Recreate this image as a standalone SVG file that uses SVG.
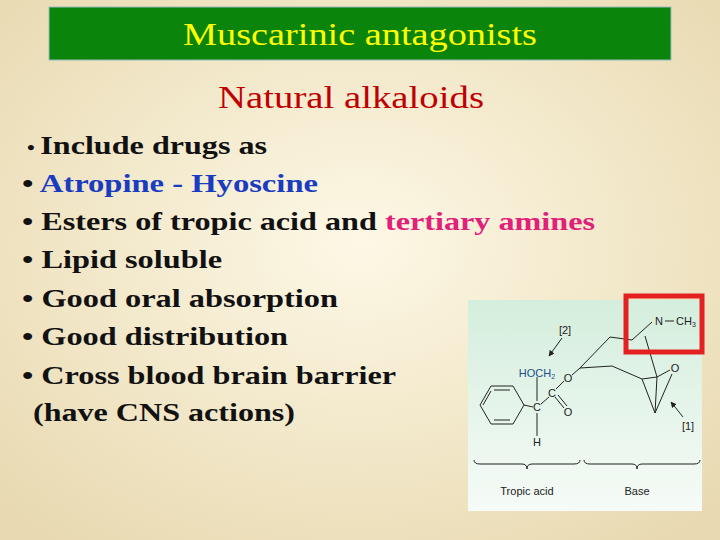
<svg xmlns="http://www.w3.org/2000/svg" width="720" height="540" viewBox="0 0 720 540">
<defs>
<radialGradient id="bg" cx="50%" cy="45%" r="70%"><stop offset="0" stop-color="#fdf8e6"/><stop offset="1" stop-color="#e8d9b0"/></radialGradient>
<linearGradient id="pg" x1="0" y1="0" x2="0" y2="1"><stop offset="0" stop-color="#d4eedd"/><stop offset="1" stop-color="#f6fbf7"/></linearGradient>
<marker id="ah" viewBox="0 0 10 10" refX="9" refY="5" markerWidth="6" markerHeight="6" orient="auto"><path d="M0,0L10,5L0,10z" fill="#222"/></marker>
</defs>
<style>
.b{font-family:"Liberation Serif",serif;font-weight:bold;font-size:26px;fill:#111}
.c{font-family:"Liberation Sans",sans-serif;font-size:11px;fill:#222}
.l{stroke:#222;stroke-width:1;fill:none}
</style>
<rect width="720" height="540" fill="url(#bg)"/>
<g id="title"><rect x="49" y="7" width="622" height="53" fill="#0a840a" stroke="#9bb" stroke-width="1"/>
<text x="183" y="45" textLength="354" lengthAdjust="spacingAndGlyphs" font-family="Liberation Serif,serif" font-size="31" fill="#ffff00">Muscarinic antagonists</text></g>
<text x="218" y="108" textLength="266" lengthAdjust="spacingAndGlyphs" font-family="Liberation Serif,serif" font-size="31" fill="#c00000">Natural alkaloids</text>
<g id="bullets">
<text x="27" y="154" class="b" textLength="240" lengthAdjust="spacingAndGlyphs"><tspan font-size="18">• </tspan>Include drugs as</text>
<text x="22" y="192" class="b" textLength="296" lengthAdjust="spacingAndGlyphs">• <tspan fill="#1a3cc0">Atropine - Hyoscine</tspan></text>
<text x="22" y="230" class="b" textLength="573" lengthAdjust="spacingAndGlyphs">• Esters of tropic acid and <tspan fill="#e0207a">tertiary amines</tspan></text>
<text x="22" y="268" class="b" textLength="200" lengthAdjust="spacingAndGlyphs">• Lipid soluble</text>
<text x="22" y="307" class="b" textLength="316" lengthAdjust="spacingAndGlyphs">• Good oral absorption</text>
<text x="22" y="345" class="b" textLength="266" lengthAdjust="spacingAndGlyphs">• Good distribution</text>
<text x="22" y="384" class="b" textLength="374" lengthAdjust="spacingAndGlyphs">• Cross blood brain barrier</text>
<text x="33" y="421" class="b" textLength="262" lengthAdjust="spacingAndGlyphs">(have CNS actions)</text>
</g>
<g id="structure">
<rect x="468" y="300" width="234" height="211" fill="url(#pg)"/>
<polygon class="l" points="524,405 513,386 491,386 480,405 491,424 513,424"/>
<path class="l" d="M494,390L510,390M494,420L510,420M483,405L491,391"/>
<path class="l" d="M524,405L533,407M537,377L537,401M537,413L537,436M541,404L549,397M556,389L564,381M555,397L564,408M558,395L567,406"/>
<path class="l" d="M572,375L580,368L610,337L632,340M580,368L612,366L642,379L655,413L657,377L642,379M632,340L652,322M645,336L657,377M657,377L670,370M655,413L672,374" />
<path class="l" d="M665,321L674,321"/>
<text x="537" y="377" class="c" text-anchor="middle" style="fill:#1a4f8a">HOCH<tspan font-size="7" dy="2">2</tspan></text>
<text x="537" y="411" class="c" text-anchor="middle">C</text>
<text x="537" y="446" class="c" text-anchor="middle">H</text>
<text x="552" y="397" class="c" text-anchor="middle">C</text>
<text x="568" y="416" class="c" text-anchor="middle">O</text>
<text x="568" y="382" class="c" text-anchor="middle">O</text>
<text x="675" y="372" class="c" text-anchor="middle">O</text>
<text x="659" y="325" class="c" text-anchor="middle">N</text>
<text x="676" y="325" class="c">CH<tspan font-size="7" dy="2">3</tspan></text>
<text x="565" y="334" class="c" text-anchor="middle">[2]</text>
<text x="688" y="430" class="c" text-anchor="middle">[1]</text>
<path class="l" d="M562,338L549,356" marker-end="url(#ah)"/>
<path class="l" d="M683,417L671,402" marker-end="url(#ah)"/>
<path class="l" d="M474,460Q474,464 480,464L522,464Q527,464 527,469Q527,464 532,464L574,464Q580,464 580,460"/>
<path class="l" d="M584,460Q584,464 590,464L632,464Q637,464 637,469Q637,464 642,464L694,464Q700,464 700,460"/>
<text x="527" y="495" class="c" text-anchor="middle">Tropic acid</text>
<text x="637" y="495" class="c" text-anchor="middle">Base</text>
<rect x="626" y="296" width="76" height="56" fill="none" stroke="#e52020" stroke-width="5"/>
</g>
</svg>
